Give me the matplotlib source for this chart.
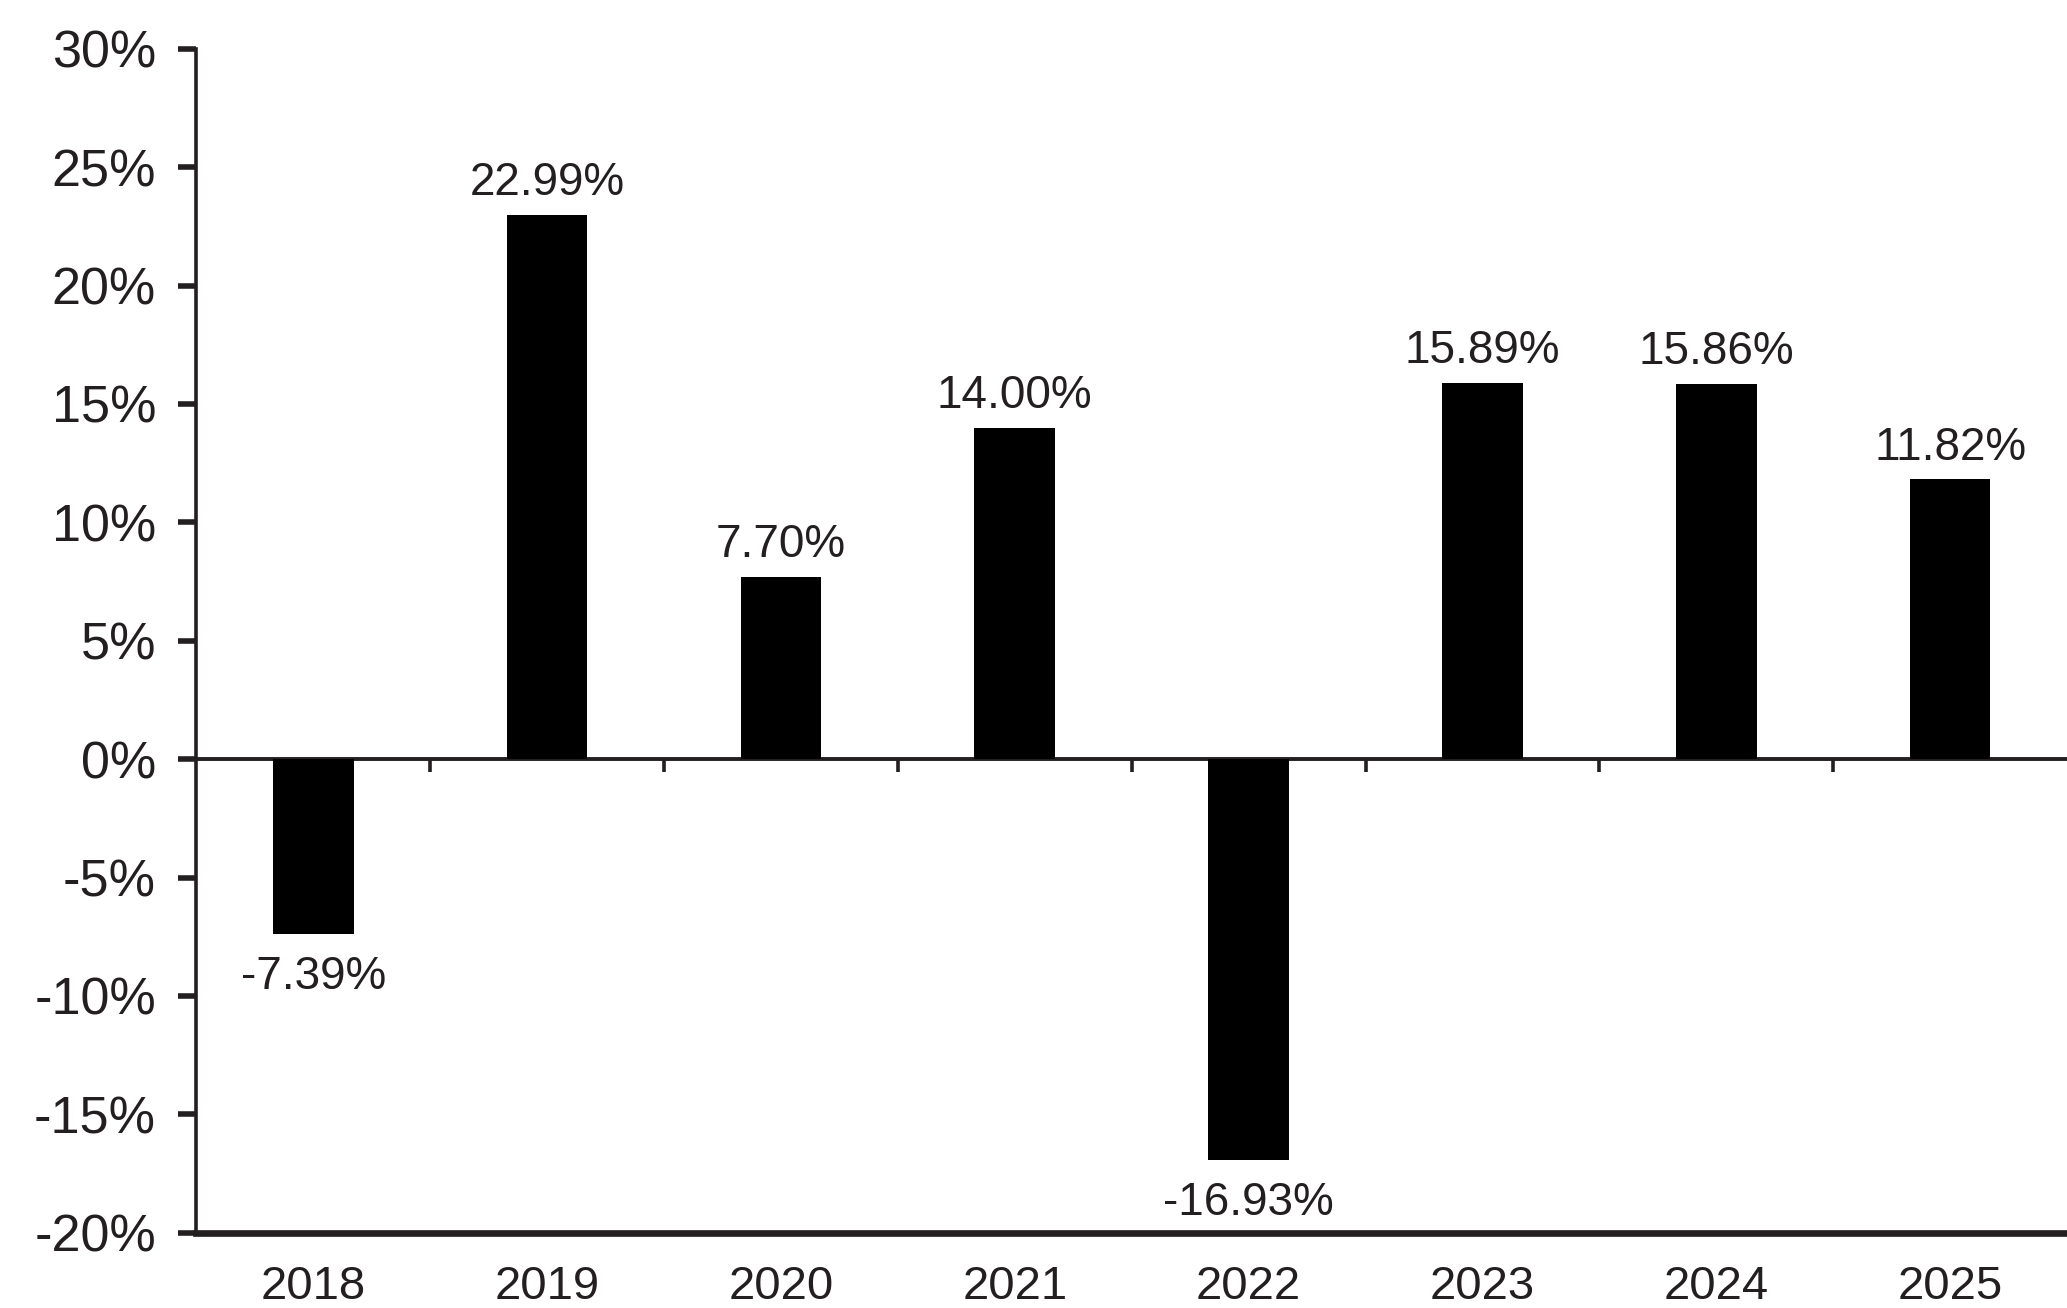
import numpy as np
import matplotlib
matplotlib.use("Agg")
import matplotlib.pyplot as plt

years = ['2018', '2019', '2020', '2021', '2022', '2023', '2024', '2025']
returns = [-7.39, 22.99, 7.70, 14.00, -16.93, 15.89, 15.86, 11.82]
yticks = [-20, -15, -10, -5, 0, 5, 10, 15, 20, 25, 30]

dark = '#231f20'
plt.rcParams['font.family'] = ['Liberation Sans', 'DejaVu Sans']

fig = plt.figure(figsize=(20.67, 13.08), dpi=100)
ax = fig.add_axes([0.095, 0.0575, 0.905, 0.9052])

x = np.arange(len(years))
ax.bar(x, returns, width=0.345, color='black', zorder=2)

for xi, v in zip(x, returns):
    if v >= 0:
        ax.annotate(f'{v:.2f}%', (xi, v), xytext=(0, 7), textcoords='offset points',
                    ha='center', va='bottom', fontsize=33, color=dark)
    else:
        ax.annotate(f'{v:.2f}%', (xi, v), xytext=(0, -15), textcoords='offset points',
                    ha='center', va='top', fontsize=33, color=dark)

ax.set_xlim(-0.5, len(years) - 0.5)
ax.set_ylim(-20, 30)
ax.set_yticks(yticks)
ax.set_yticklabels([f'{t}%' for t in yticks])
ax.tick_params(axis='y', length=13, width=4, pad=16, labelsize=37.5,
               color=dark, labelcolor=dark)

ax.set_xticks(x)
ax.set_xticklabels(years)
ax.tick_params(axis='x', length=0, pad=23, labelsize=34, labelcolor=dark)

for side in ['top', 'right']:
    ax.spines[side].set_visible(False)
ax.spines['left'].set_linewidth(2.6)
ax.spines['left'].set_color(dark)
ax.spines['bottom'].set_linewidth(4.8)
ax.spines['bottom'].set_color(dark)

# zero line with category separators
zero = ax.secondary_xaxis(20 / 50)
zero.set_xticks(x[:-1] + 0.5)
zero.set_xticklabels([])
zero.tick_params(axis='x', direction='out', length=9, width=2.6, color=dark)
zero.spines['bottom'].set_linewidth(2.8)
zero.spines['bottom'].set_color(dark)

fig.savefig('out.png', dpi=100)
